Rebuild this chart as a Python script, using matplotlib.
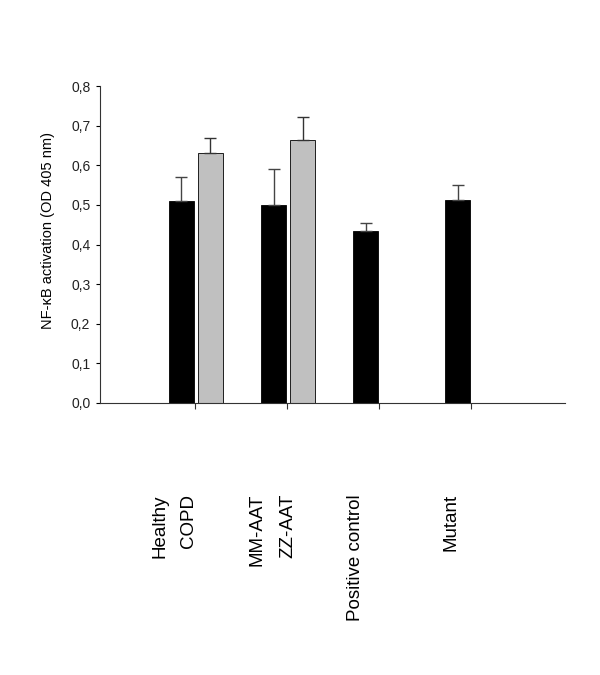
import matplotlib.pyplot as plt
import numpy as np

# groups on the x axis (tick positions 1..4)
group_pos = [1, 2, 3, 4]
black_labels = ['Healthy', 'MM-AAT', 'Positive control', 'Mutant']
grey_labels = ['COPD', 'ZZ-AAT']

black_vals = [0.510, 0.500, 0.434, 0.512]
black_err = [0.060, 0.090, 0.020, 0.038]
grey_vals = [0.632, 0.664]
grey_err = [0.037, 0.059]

plt.rcParams['font.family'] = ['Liberation Sans', 'DejaVu Sans']

fig = plt.figure(figsize=(6, 6.75), dpi=100)
ax = fig.add_axes([100 / 600, 1 - 403 / 675, 465 / 600, 317 / 675])

bw = 0.27
xb = np.array(group_pos, dtype=float) - 0.01 - bw / 2
xg = np.array(group_pos[:2], dtype=float) + 0.035 + bw / 2

ax.bar(xb, black_vals, width=bw, color='black', edgecolor='black', linewidth=0.6)
ax.bar(xg, grey_vals, width=bw, color='#c0c0c0', edgecolor='black', linewidth=0.6)
ax.errorbar(xb, black_vals, yerr=[np.zeros(4), black_err], fmt='none',
            ecolor='#444444', elinewidth=1, capsize=4, capthick=1)
ax.errorbar(xg, grey_vals, yerr=[np.zeros(2), grey_err], fmt='none',
            ecolor='#333333', elinewidth=1, capsize=4, capthick=1)

ax.set_xlim(-0.03, 5.02)
ax.set_ylim(0, 0.8)
ax.set_yticks(np.arange(0, 0.81, 0.1))
ax.set_yticklabels([('%.1f' % v).replace('.', ',') for v in np.arange(0, 0.81, 0.1)],
                   fontsize=10, color='#222222')
ax.set_xticks(group_pos)
ax.set_xticklabels([])
ax.tick_params(axis='x', direction='out', length=4, width=0.8, colors='#333333')
ax.tick_params(axis='y', direction='out', length=3, width=0.8, pad=4)

for s in ['top', 'right']:
    ax.spines[s].set_visible(False)
ax.spines['left'].set_linewidth(0.8)
ax.spines['bottom'].set_linewidth(0.8)
ax.spines['left'].set_color('#333333')
ax.spines['bottom'].set_color('#333333')

ax.set_ylabel('NF-\u03baB activation (OD 405 nm)', fontsize=10.5)
ax.yaxis.set_label_coords(-0.096, 0.545)

# rotated category labels below the axis
label_names = ['Healthy', 'COPD', 'MM-AAT', 'ZZ-AAT', 'Positive control', 'Mutant']
label_px = [160, 188, 257, 288, 355, 451]
for name, px in zip(label_names, label_px):
    fig.text(px / 600, 1 - 494 / 675, name, rotation=90, ha='center', va='top',
             fontsize=13.5)

fig.savefig('out.png', dpi=100)
